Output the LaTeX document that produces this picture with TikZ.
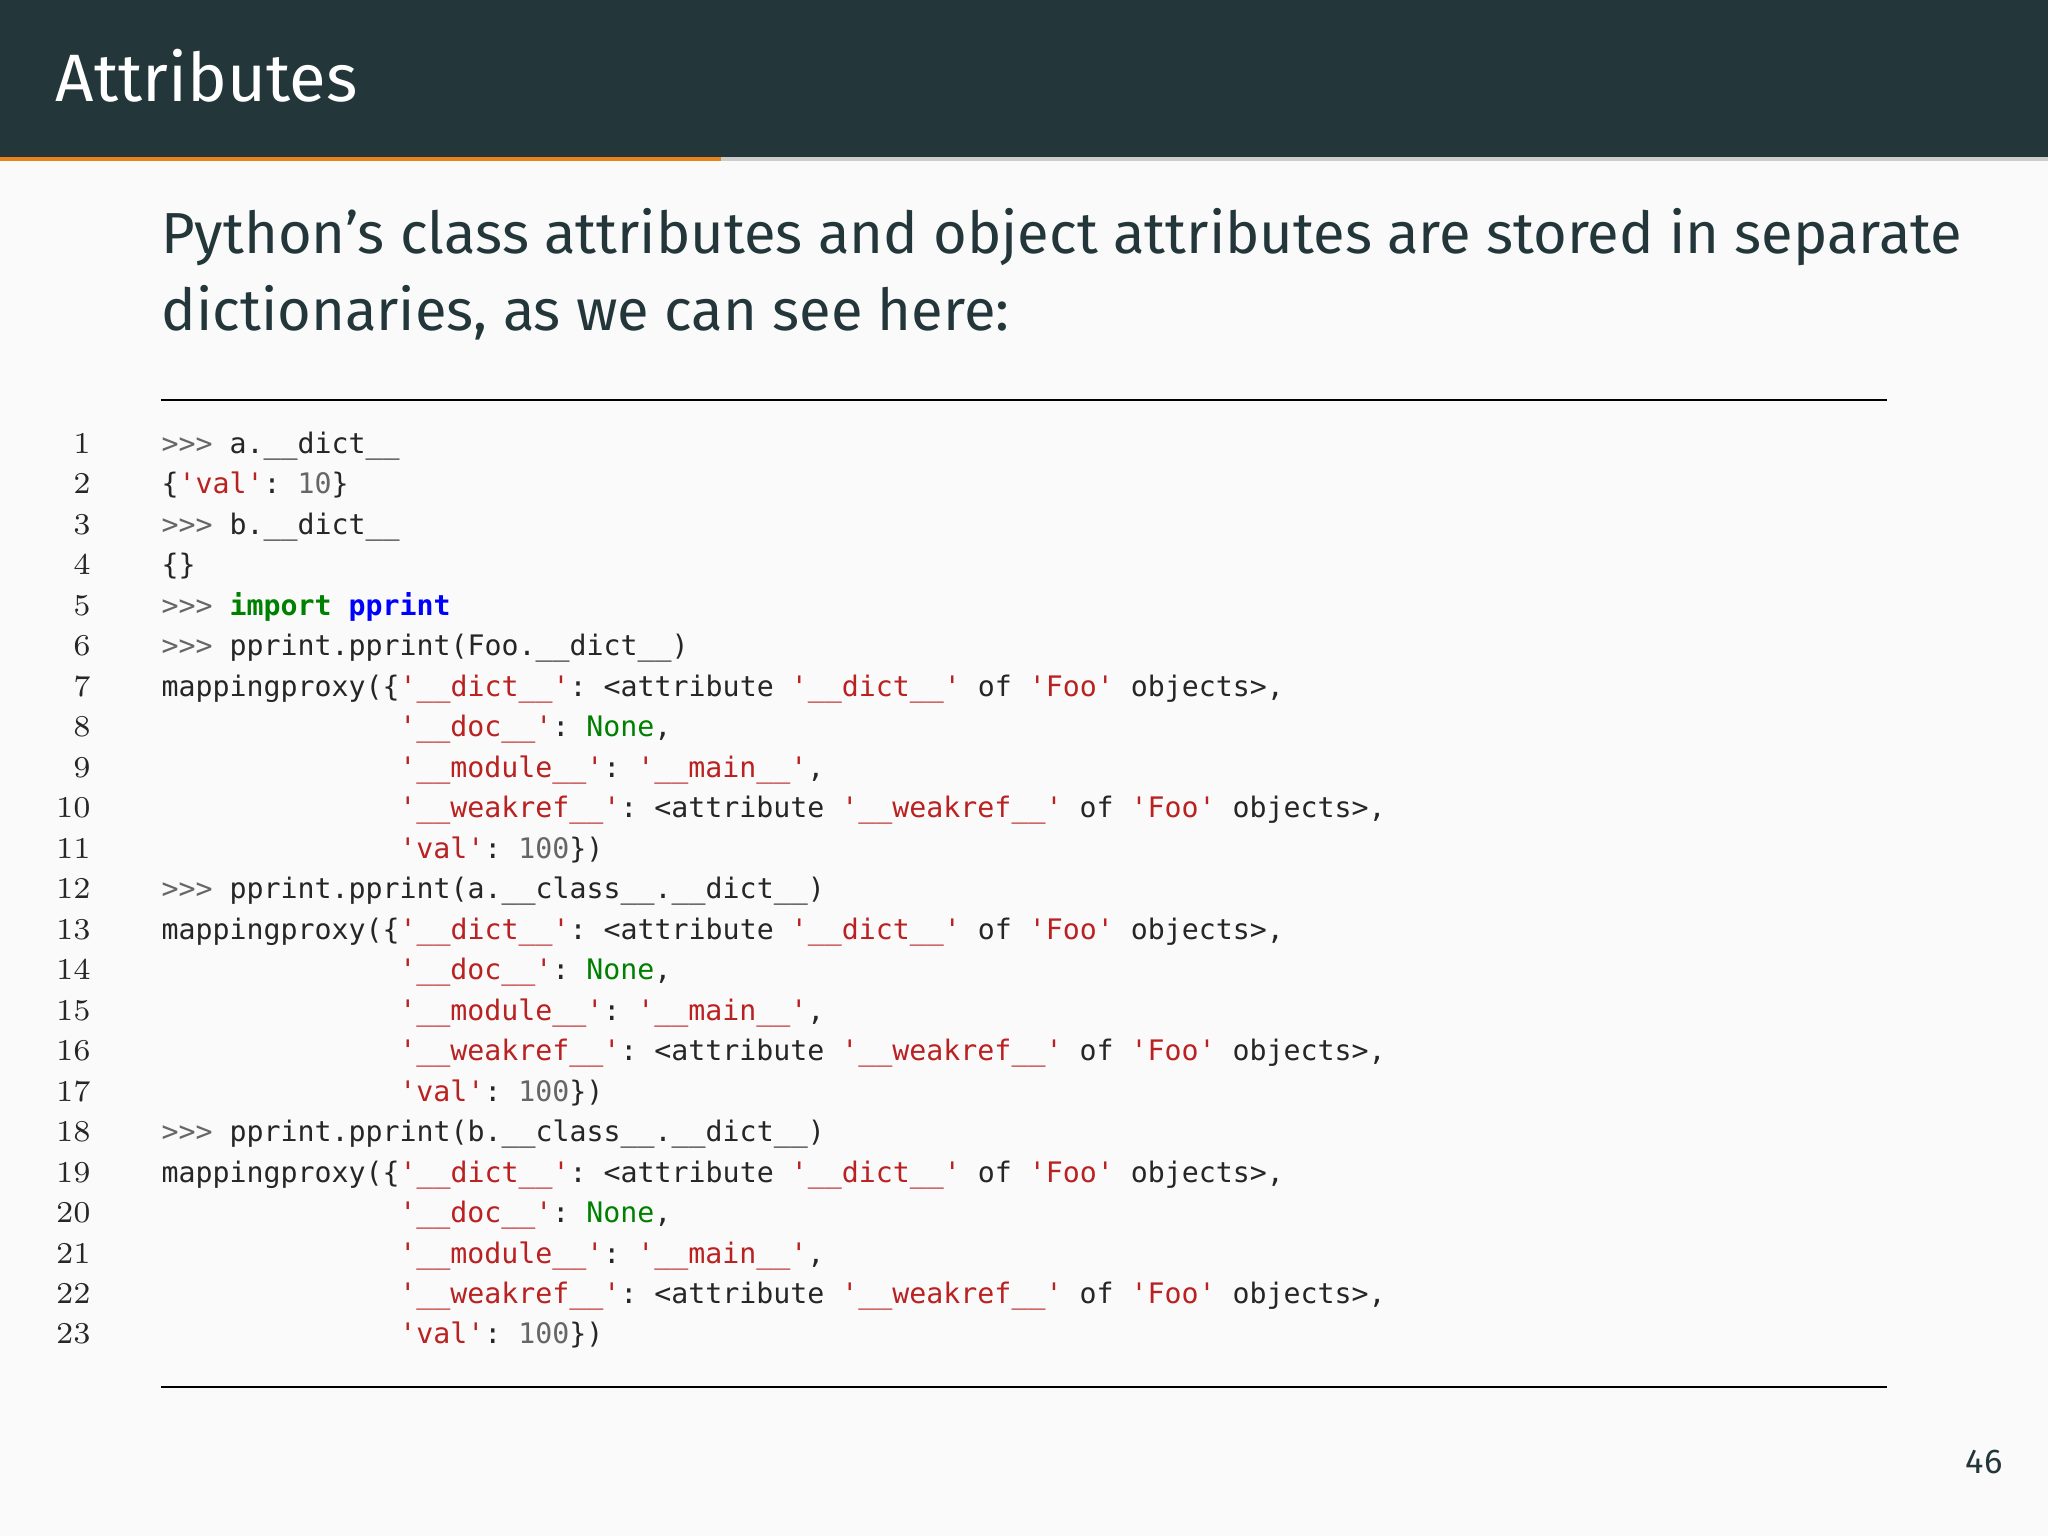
\documentclass[tikz,border=0pt]{standalone}
\usepackage{fontspec}
\setmainfont{Fira Sans}
\setmonofont{DejaVu Sans Mono}
\newfontfamily\lmfont{Latin Modern Roman}
\definecolor{hdr}{HTML}{23373B}
\definecolor{org}{HTML}{EB811B}
\definecolor{bg}{HTML}{FAFAFA}
\definecolor{strc}{HTML}{BA2121}
\definecolor{numc}{HTML}{666666}
\definecolor{grn}{HTML}{008000}
\definecolor{blu}{HTML}{0000FF}
\newcommand{\st}[1]{\textcolor{strc}{#1}}
\newcommand{\nm}[1]{\textcolor{numc}{#1}}
\newcommand{\gr}[1]{\textcolor{grn}{#1}}
\newcommand{\pr}{\textcolor{numc}{>>>}}
\newcommand{\U}{\_\_}
\tikzset{code/.style={anchor=base west,inner sep=0pt,font=\ttfamily\fontsize{6.15pt}{7pt}\selectfont,text=black!85},
lnum/.style={anchor=base east,inner sep=0pt,font=\lmfont\fontsize{6.6pt}{7pt}\selectfont,text=black!85}}
\begin{document}
\begin{tikzpicture}[x=0.01cm,y=-0.01cm]
\useasboundingbox (0,0) rectangle (1568,1176);
\fill[bg] (0,0) rectangle (1568,1176);
\fill[hdr] (0,0) rectangle (1568,120);
\fill[black!20] (0,120) rectangle (1568,123);
\fill[org] (0,120) rectangle (552,123);
\node[anchor=base west,inner sep=0pt,text=white,font=\fontsize{14.6pt}{16pt}\selectfont] (title) at (42,78) {Attributes};
\node[anchor=base west,inner sep=0pt,text=hdr,font=\fontsize{12.6pt}{16.8pt}\selectfont\addfontfeature{}\fontseries{l}\selectfont] (intro) at (123,194) {Python’s class attributes and object attributes are stored in separate};
\node[anchor=base west,inner sep=0pt,text=hdr,font=\fontsize{12.6pt}{16.8pt}\fontseries{l}\selectfont] (intro2) at (123,253) {dictionaries, as we can see here:};
\draw[line width=0.5pt] (123,306) coordinate (r1a) -- (1445,306) coordinate (r1b);
\draw[line width=0.5pt] (123,1062) coordinate (r2a) -- (1445,1062) coordinate (r2b);
\foreach \i in {1,...,23} \node[lnum] (n\i) at (70,{340+31*(\i-1)+7}) {\i};
\def\Y#1{{340+31*(#1-1)+7}}
\node[code] (c1) at (123,\Y{1}) {\pr{} a.\U dict\U};
\node[code] (c2) at (123,\Y{2}) {\{\st{'val'}: \nm{10}\}};
\node[code] (c3) at (123,\Y{3}) {\pr{} b.\U dict\U};
\node[code] (c4) at (123,\Y{4}) {\{\}};
\node[code] (c5) at (123,\Y{5}) {\pr{} \textbf{\gr{import}} \textbf{\textcolor{blu}{pprint}}};
\foreach \a/\b in {6/Foo.,12/a.\U class\U.,18/b.\U class\U.}{
\node[code] (c\a) at (123,\Y{\a}) {\pr{} pprint.pprint(\b\U dict\U)};
\pgfmathtruncatemacro{\k}{\a+1}
\node[code] (m\k) at (123,\Y{\k}) {mappingproxy(\{\st{'\U dict\U'}: <attribute \st{'\U dict\U'} of \st{'Foo'} objects>,};
\pgfmathtruncatemacro{\k}{\a+2}
\node[code] (d\k) at (305,\Y{\k}) {\st{'\U doc\U'}: \gr{None},};
\pgfmathtruncatemacro{\k}{\a+3}
\node[code] (e\k) at (305,\Y{\k}) {\st{'\U module\U'}: \st{'\U main\U'},};
\pgfmathtruncatemacro{\k}{\a+4}
\node[code] (w\k) at (305,\Y{\k}) {\st{'\U weakref\U'}: <attribute \st{'\U weakref\U'} of \st{'Foo'} objects>,};
\pgfmathtruncatemacro{\k}{\a+5}
\node[code] (v\k) at (305,\Y{\k}) {\st{'val'}: \nm{100}\})};
}
\node[anchor=base east,inner sep=0pt,text=hdr,font=\fontsize{7.5pt}{9pt}\fontseries{l}\selectfont] (pg) at (1534,1128) {46};
\end{tikzpicture}
\end{document}
